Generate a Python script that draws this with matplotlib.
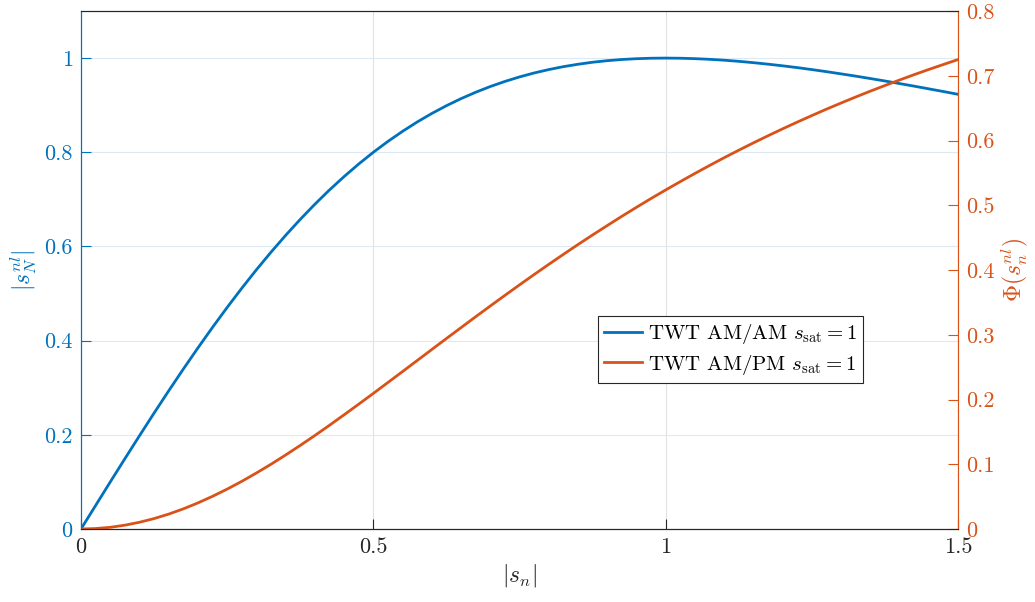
import matplotlib
matplotlib.use("Agg")
import matplotlib.pyplot as plt

plt.rcParams['font.family'] = 'serif'
plt.rcParams['font.serif'] = ['cmr10']
plt.rcParams['mathtext.fontset'] = 'cm'
plt.rcParams['axes.formatter.use_mathtext'] = True
plt.rcParams['axes.unicode_minus'] = False

# input amplitude |s_n|
r = [0.0, 0.025, 0.05, 0.075, 0.1, 0.125, 0.15, 0.175, 0.2, 0.225, 0.25, 0.275,
     0.3, 0.325, 0.35, 0.375, 0.4, 0.425, 0.45, 0.475, 0.5, 0.525,
     0.55, 0.575, 0.6, 0.625, 0.65, 0.675, 0.7, 0.725, 0.75, 0.775,
     0.8, 0.825, 0.85, 0.875, 0.9, 0.925, 0.95, 0.975, 1.0, 1.025,
     1.05, 1.075, 1.1, 1.125, 1.15, 1.175, 1.2, 1.225, 1.25, 1.275,
     1.3, 1.325, 1.35, 1.375, 1.4, 1.425, 1.45, 1.475, 1.5]

# AM/AM output amplitude (left axis)
am_am = [0.0, 0.0500, 0.0998, 0.1492, 0.1980, 0.2462, 0.2934, 0.3396, 0.3846, 0.4283, 0.4706, 0.5113,
         0.5505, 0.5879, 0.6236, 0.6575, 0.6897, 0.7200, 0.7484, 0.7751, 0.8, 0.8231,
         0.8445, 0.8643, 0.8824, 0.8989, 0.9139, 0.9274, 0.9396, 0.9504, 0.96, 0.9684,
         0.9756, 0.9818, 0.9869, 0.9912, 0.9945, 0.9970, 0.9987, 0.9997, 1.0, 0.9997,
         0.9988, 0.9974, 0.9955, 0.9931, 0.9903, 0.9871, 0.9836, 0.9798, 0.9756, 0.9712,
         0.9665, 0.9617, 0.9566, 0.9514, 0.9459, 0.9404, 0.9347, 0.9290, 0.9231]

# AM/PM phase (right axis)
am_pm = [0.0, 0.0007, 0.0026, 0.0059, 0.0104, 0.0161, 0.0230, 0.0311, 0.0403, 0.0505, 0.0616, 0.0736,
         0.0865, 0.1000, 0.1143, 0.1291, 0.1444, 0.1602, 0.1764, 0.1928, 0.2094, 0.2263,
         0.2432, 0.2602, 0.2772, 0.2942, 0.3110, 0.3278, 0.3444, 0.3608, 0.3770, 0.3930,
         0.4087, 0.4241, 0.4393, 0.4541, 0.4686, 0.4829, 0.4968, 0.5104, 0.5236, 0.5365,
         0.5491, 0.5614, 0.5734, 0.5850, 0.5963, 0.6073, 0.6180, 0.6284, 0.6385, 0.6484,
         0.6579, 0.6672, 0.6762, 0.6849, 0.6934, 0.7017, 0.7097, 0.7174, 0.7250]

blue = '#0072BD'
orange = '#D95319'

fig = plt.figure(figsize=(10.35, 6.02), dpi=100)
ax = fig.add_axes([81/1035, 73/602, 877/1035, 518/602])
ax2 = ax.twinx()

l1, = ax.plot(r, am_am, color=blue, lw=2, label=r'TWT AM/AM $s_{\mathrm{sat}}=1$')
l2, = ax2.plot(r, am_pm, color=orange, lw=2, label=r'TWT AM/PM $s_{\mathrm{sat}}=1$')

ax.set_xlim(0, 1.5)
ax.set_ylim(0, 1.1)
ax2.set_ylim(0, 0.8)
ax.set_xticks([0, 0.5, 1, 1.5])
ax.set_xticklabels(['0', '0.5', '1', '1.5'])
ax.set_yticks([0, 0.2, 0.4, 0.6, 0.8, 1])
ax.set_yticklabels(['0', '0.2', '0.4', '0.6', '0.8', '1'])
ax2.set_yticks([0, 0.1, 0.2, 0.3, 0.4, 0.5, 0.6, 0.7, 0.8])
ax2.set_yticklabels(['0', '0.1', '0.2', '0.3', '0.4', '0.5', '0.6', '0.7', '0.8'])

ax.grid(True, axis='x', color='#e1e1e1', lw=0.8)
ax.grid(True, axis='y', color='#dde9f3', lw=0.8)
ax.set_axisbelow(True)

ax.tick_params(axis='x', direction='in', length=7, labelsize=16, colors='#262626', pad=6)
ax.tick_params(axis='y', direction='in', length=7, labelsize=16, colors=blue, pad=6)
ax2.tick_params(axis='y', direction='in', length=7, labelsize=16, colors=orange, pad=6)

for a in (ax, ax2):
    a.spines['top'].set_color('#262626')
    a.spines['bottom'].set_color('#262626')
    a.spines['left'].set_color(blue)
    a.spines['right'].set_color(orange)

ax.set_xlabel(r'$|s_n|$', fontsize=17, color='#262626', labelpad=4)
ax.set_ylabel(r'$|s_N^{nl}|$', fontsize=17, color=blue, labelpad=4)
ax2.set_ylabel(r'$\Phi(s_n^{nl})$', fontsize=17, color=orange, rotation=90, labelpad=4)

leg = ax.legend(handles=[l1, l2], loc='lower left', bbox_to_anchor=(0.5895, 0.2819),
                fontsize=15, frameon=True, fancybox=False, edgecolor='#262626',
                handlelength=1.8, handletextpad=0.3, borderpad=0.3, labelspacing=0.3,
                borderaxespad=0, framealpha=1)
leg.get_frame().set_linewidth(0.8)

fig.savefig('out.png', dpi=100)
